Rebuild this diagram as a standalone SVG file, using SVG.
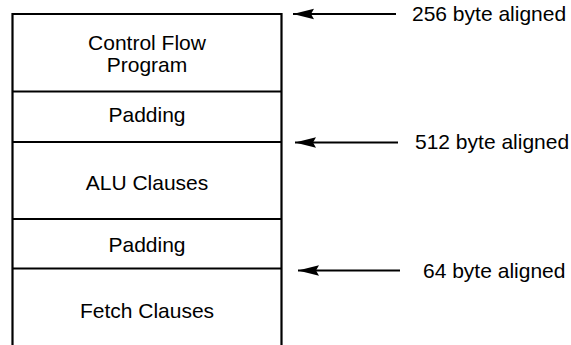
<svg xmlns="http://www.w3.org/2000/svg" width="571" height="345" viewBox="0 0 571 345">
<style>
  .ln { stroke: #000; stroke-width: 2.2; fill: none; }
  .t { font-family: "Liberation Sans", Arial, sans-serif; font-size: 21px; fill: #000; }
  .c { text-anchor: middle; }
</style>
<defs>
  <marker id="ah" markerWidth="21" markerHeight="12" refX="21" refY="6" orient="auto" markerUnits="userSpaceOnUse">
    <path d="M21,6 L0,0.8 L3,6 L0,11.2 Z" fill="#000"/>
  </marker>
</defs>
<rect width="571" height="345" fill="#fff"/>
<g id="memory">
  <path class="ln" d="M12.5,345 V14 H281.5 V345"/>
</g>
<g id="control-flow">
  <text class="t c" x="147" y="50">Control Flow</text>
  <text class="t c" x="147" y="72">Program</text>
</g>
<g id="padding1">
  <line class="ln" x1="12.5" y1="91.5" x2="281.5" y2="91.5"/>
  <text class="t c" x="147" y="122">Padding</text>
</g>
<g id="alu">
  <line class="ln" x1="12.5" y1="142" x2="281.5" y2="142"/>
  <text class="t c" x="147" y="190">ALU Clauses</text>
</g>
<g id="padding2">
  <line class="ln" x1="12.5" y1="219" x2="281.5" y2="219"/>
  <text class="t c" x="147" y="252">Padding</text>
</g>
<g id="fetch">
  <line class="ln" x1="12.5" y1="268.5" x2="281.5" y2="268.5"/>
  <text class="t c" x="147" y="318">Fetch Clauses</text>
</g>
<g id="connectors">
  <line x1="396" y1="14" x2="293" y2="14" stroke="#000" stroke-width="2" marker-end="url(#ah)"/>
  <line x1="398" y1="142.5" x2="295" y2="142.5" stroke="#000" stroke-width="2" marker-end="url(#ah)"/>
  <line x1="400" y1="270.5" x2="298" y2="270.5" stroke="#000" stroke-width="2" marker-end="url(#ah)"/>
</g>
<g id="labels">
  <text class="t" x="412" y="21" font-size="20">256 byte aligned</text>
  <text class="t" x="415" y="149" font-size="20">512 byte aligned</text>
  <text class="t" x="423" y="278" font-size="20">64 byte aligned</text>
</g>
</svg>
